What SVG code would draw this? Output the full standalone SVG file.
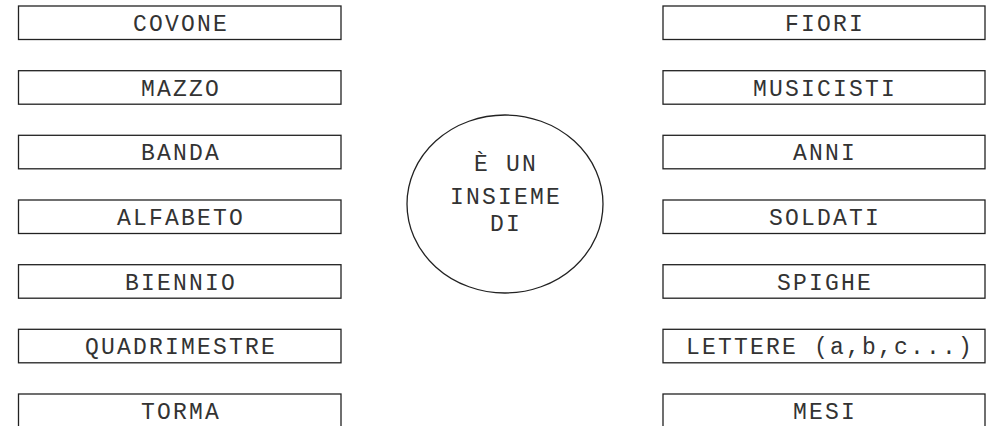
<svg xmlns="http://www.w3.org/2000/svg" width="993" height="426" viewBox="0 0 993 426">
<style>
.box{fill:#fff;stroke:#222;stroke-width:1.3}
.t{font-family:"Liberation Mono","Courier New",monospace;font-size:23px;letter-spacing:2.2px;fill:#333;text-anchor:middle}
</style>
<rect width="993" height="426" fill="#fff"/>
<g id="left">
<g id="covone"><rect class="box" x="18.5" y="6" width="322.5" height="33.5"/><text class="t" x="181" y="31">COVONE</text></g>
<g id="mazzo"><rect class="box" x="18.5" y="70.7" width="322.5" height="33.5"/><text class="t" x="181" y="95.7">MAZZO</text></g>
<g id="banda"><rect class="box" x="18.5" y="135.3" width="322.5" height="33.5"/><text class="t" x="181" y="160.3">BANDA</text></g>
<g id="alfabeto"><rect class="box" x="18.5" y="200" width="322.5" height="33.5"/><text class="t" x="181" y="225">ALFABETO</text></g>
<g id="biennio"><rect class="box" x="18.5" y="264.7" width="322.5" height="33.5"/><text class="t" x="181" y="289.7">BIENNIO</text></g>
<g id="quadrimestre"><rect class="box" x="18.5" y="329.3" width="322.5" height="33.5"/><text class="t" x="181" y="354.3">QUADRIMESTRE</text></g>
<g id="torma"><rect class="box" x="18.5" y="394" width="322.5" height="33.5"/><text class="t" x="181" y="419">TORMA</text></g>
</g>
<g id="center"><ellipse cx="505" cy="204" rx="98" ry="89" fill="#fff" stroke="#222" stroke-width="1.3"/>
<text class="t" x="506" y="171">È UN</text>
<text class="t" x="506" y="203.5">INSIEME</text>
<text class="t" x="506" y="231">DI</text></g>
<g id="right">
<g id="fiori"><rect class="box" x="663" y="6" width="322" height="33.5"/><text class="t" x="825" y="31">FIORI</text></g>
<g id="musicisti"><rect class="box" x="663" y="70.7" width="322" height="33.5"/><text class="t" x="825" y="95.7">MUSICISTI</text></g>
<g id="anni"><rect class="box" x="663" y="135.3" width="322" height="33.5"/><text class="t" x="825" y="160.3">ANNI</text></g>
<g id="soldati"><rect class="box" x="663" y="200" width="322" height="33.5"/><text class="t" x="825" y="225">SOLDATI</text></g>
<g id="spighe"><rect class="box" x="663" y="264.7" width="322" height="33.5"/><text class="t" x="825" y="289.7">SPIGHE</text></g>
<g id="lettere"><rect class="box" x="663" y="329.3" width="322" height="33.5"/><text class="t" x="830" y="354.3">LETTERE (a,b,c...)</text></g>
<g id="mesi"><rect class="box" x="663" y="394" width="322" height="33.5"/><text class="t" x="825" y="419">MESI</text></g>
</g>
<g id="connectors"></g>
</svg>
